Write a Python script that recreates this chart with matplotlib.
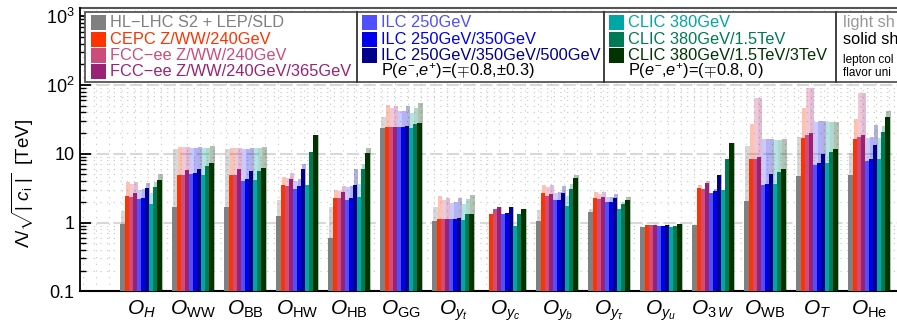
import numpy as np
import matplotlib
matplotlib.use("Agg")
import matplotlib.pyplot as plt
from matplotlib.patches import Rectangle
from matplotlib.ticker import FixedLocator, LogLocator, NullFormatter, FuncFormatter

plt.rcParams["font.family"] = ["Liberation Sans", "DejaVu Sans"]
plt.rcParams["mathtext.fontset"] = "custom"
plt.rcParams["mathtext.rm"] = "Liberation Sans"
plt.rcParams["mathtext.it"] = "Liberation Sans:italic"
plt.rcParams["mathtext.bf"] = "Liberation Sans:bold"
plt.rcParams["mathtext.sf"] = "Liberation Sans"

nan = np.nan

# operators on the x axis
operators = [r"$O_H$", r"$O_{\rm WW}$", r"$O_{\rm BB}$", r"$O_{\rm HW}$", r"$O_{\rm HB}$",
             r"$O_{\rm GG}$", r"$O_{y_t}$", r"$O_{y_c}$", r"$O_{y_b}$", r"$O_{y_\tau}$",
             r"$O_{y_u}$", r"$O_{{\rm 3}\,W}$", r"$O_{\rm WB}$", r"$O_T$", r"$O_{\rm He}$"]

# reach in TeV, solid shade / light shade, one entry per operator
hllhc_solid = [0.95, 1.71, 1.67, 1.25, 0.60, 23.7, 1.06, nan, 1.06, 1.43, 0.865, 0.915, 2.06, 4.76, 4.93]
hllhc_light = [1.46, 11.8, 11.8, 2.13, 1.69, 34.3, 1.69, nan, 1.53, 1.58, 0.865, 0.915, 13.0, 17.5, 10.2]
cepc_solid = [2.41, 4.92, 4.98, 3.49, 2.26, 24.5, 1.13, 1.35, 2.70, 2.31, 0.915, 3.19, 8.32, 17.2, 16.4]
cepc_light = [3.90, 12.6, 12.2, 4.60, 2.98, 51.2, 2.44, 1.35, 3.53, 2.79, 0.915, 3.53, 27.1, 46.3, 32.1]
fcc240_solid = [2.36, 4.87, 4.98, 3.41, 2.28, 24.5, 1.13, 1.60, 2.44, 2.21, 0.915, 3.08, 8.50, 18.8, 17.5]
fcc240_light = [3.65, 12.6, 12.2, 4.45, 2.88, 46.3, 2.13, 1.60, 3.30, 2.61, 0.915, 3.08, 64.7, 90.4, 76.5]
fcc365_solid = [2.73, 5.82, 5.95, 4.31, 2.79, 24.5, 1.13, 1.71, 2.64, 2.36, 0.915, 3.77, 9.00, 19.8, 18.8]
fcc365_light = [3.90, 12.6, 12.2, 5.27, 3.41, 49.5, 2.28, 1.71, 3.53, 2.79, 0.915, 4.03, 64.7, 90.4, 76.5]
ilc250_solid = [2.18, 5.15, 4.07, 3.08, 2.13, 24.3, 1.13, 1.35, 2.13, 2.00, 0.89, 2.70, 3.53, 6.88, 7.78]
ilc250_light = [2.98, 12.2, 11.8, 4.03, 3.30, 41.9, 1.93, 1.35, 2.70, 2.36, 0.89, 2.70, 16.4, 29.0, 17.0]
ilc350_solid = [2.28, 5.20, 4.26, 3.45, 2.31, 24.3, 1.13, 1.40, 2.13, 2.00, 0.89, 2.88, 3.65, 7.36, 8.41]
ilc350_light = [3.08, 12.2, 11.8, 4.31, 3.41, 41.9, 2.00, 1.40, 2.79, 2.36, 0.89, 3.08, 16.4, 29.7, 17.5]
ilc500_solid = [3.15, 6.00, 5.63, 6.00, 3.53, 25.1, 1.18, 1.71, 2.70, 2.31, 0.915, 4.93, 5.09, 10.0, 13.4]
ilc500_light = [3.77, 12.6, 12.2, 7.10, 6.00, 49.5, 2.28, 1.71, 3.41, 2.61, 0.915, 4.93, 16.4, 29.7, 26.2]
clic380_solid = [1.87, 4.92, 4.21, 3.49, 2.39, 23.7, 1.10, 0.89, 1.75, 1.58, 0.865, 2.95, 3.65, 7.36, 8.41]
clic380_light = [2.67, 12.2, 12.0, 3.49, 3.65, 39.2, 1.87, 0.89, 2.44, 1.58, 0.865, 2.95, 15.9, 29.0, 17.0]
clic1500_solid = [3.33, 6.66, 5.63, 10.7, 6.00, 27.4, 1.31, 1.35, 3.08, 1.87, 0.89, 8.41, 5.45, 10.6, 20.5]
clic1500_light = [3.85, 12.2, 12.2, 10.7, 7.10, 46.3, 2.21, 1.35, 3.65, 2.00, 0.89, 8.41, 15.9, 29.0, 25.1]
clic3000_solid = [4.17, 7.36, 6.15, 18.6, 10.3, 28.0, 1.31, 1.60, 4.46, 2.13, 0.955, 14.4, 6.00, 11.6, 34.7]
clic3000_light = [5.04, 13.0, 12.6, 18.6, 12.2, 54.7, 2.52, 1.60, 4.93, 2.36, 0.955, 14.4, 16.4, 29.0, 41.9]

labels = ["HL\u2212LHC S2 + LEP/SLD", "CEPC Z/WW/240GeV", "FCC\u2212ee Z/WW/240GeV",
          "FCC\u2212ee Z/WW/240GeV/365GeV", "ILC 250GeV", "ILC 250GeV/350GeV",
          "ILC 250GeV/350GeV/500GeV", "CLIC 380GeV", "CLIC 380GeV/1.5TeV",
          "CLIC 380GeV/1.5TeV/3TeV"]
colors = ["#808080", "#ff3300", "#cc4c7c", "#992277", "#5050ff", "#0000ee",
          "#00008b", "#00a6a6", "#007a55", "#003300"]
solids = [hllhc_solid, cepc_solid, fcc240_solid, fcc365_solid, ilc250_solid,
          ilc350_solid, ilc500_solid, clic380_solid, clic1500_solid, clic3000_solid]
lights = [hllhc_light, cepc_light, fcc240_light, fcc365_light, ilc250_light,
          ilc350_light, ilc500_light, clic380_light, clic1500_light, clic3000_light]

W, H = 897, 321
fig = plt.figure(figsize=(W / 100, H / 100), dpi=100)
# axes in pixel terms: left 80, right 905 (cut off), bottom 291.3, top 8
ax = fig.add_axes([80 / W, (H - 291.3) / H, (905 - 80) / W, (291.3 - 8) / H])
ax.set_yscale("log")
ax.set_ylim(0.1, 10 ** (3 + 8.3 / 68.8))
ax.set_xlim(-61 / 52, (905 - 141) / 52)

x = np.arange(len(operators))
bw = 0.079
for k, (sol, lig, c) in enumerate(zip(solids, lights, colors)):
    pos = x + (k - 4.5) * bw
    lv = np.array(lig, dtype=float)
    sv = np.array(sol, dtype=float)
    ax.bar(pos + 0.25 * bw, lv - 0.1, bottom=0.1, width=bw, color=c, alpha=0.3,
           linewidth=0, zorder=2)
    ax.bar(pos, sv - 0.1, bottom=0.1, width=bw, color=c, linewidth=0, zorder=3)

# grid
for v in [1, 10, 100]:
    ax.axhline(v, color="#d8d8d8", lw=1.5, dashes=(6, 2), zorder=1)
for d in [0.1, 1, 10, 100]:
    for m in range(2, 10):
        ax.axhline(d * m, color="#c4c4c4", lw=0.8, ls=(0, (1, 5)), zorder=1)
for xv in np.arange(-1.125, 14.7, 0.25):
    ax.axvline(xv, color="#c4c4c4", lw=0.8, ls=(0, (1, 5)), zorder=1)

ax.yaxis.set_major_locator(FixedLocator([0.1, 1, 10, 100, 1000]))
ax.yaxis.set_minor_locator(LogLocator(base=10, subs=np.arange(2, 10)))
ax.yaxis.set_minor_formatter(NullFormatter())
names = {0.1: "0.1", 1: "1", 10: "10", 100: r"$10^2$", 1000: r"$10^3$"}
ax.yaxis.set_major_formatter(FuncFormatter(lambda v, p: names.get(round(v, 1), "")))
ax.tick_params(axis="y", which="major", direction="in", length=8, width=1.3,
               labelsize=13, pad=4)
ax.tick_params(axis="y", which="minor", direction="in", length=4, width=1.0)
ax.set_xticks(x)
ax.set_xticklabels(operators, fontsize=15)
ax.tick_params(axis="x", length=0, pad=5)
for s in ["top", "right"]:
    ax.spines[s].set_visible(False)
ax.spines["left"].set_linewidth(1.3)
ax.spines["bottom"].set_linewidth(1.5)
ax.axhline(ax.get_ylim()[1], color="#555555", lw=1.5, clip_on=False)

ax.set_ylabel(r"$\Lambda/\sqrt{|\ c_{\rm i}\ |}$  [TeV]", fontsize=13.5)
ax.yaxis.set_label_coords(-0.053, 0.38)

# legend box in pixel coordinates
def fx(px):
    return px / W


def fy(py):
    return 1 - py / H


fig.patches.append(Rectangle((fx(85), fy(82)), fx(830), 70.5 / H, transform=fig.transFigure,
                             facecolor="white", edgecolor="#555555", lw=1.3, zorder=5))
for px in [357, 604, 836]:
    fig.add_artist(plt.Line2D([fx(px), fx(px)], [fy(82), fy(11.5)], color="#333333",
                              lw=1.3, zorder=6))

fs = 11.8
rows = [22.5, 39, 55, 71]
cols = [(90.5, 110, [0, 1, 2, 3]), (361.5, 381, [4, 5, 6]), (609, 628, [7, 8, 9])]
for sq, tx, idx in cols:
    for r, k in enumerate(idx):
        fig.patches.append(Rectangle((fx(sq), fy(rows[r] + 7.5)), 15 / W, 15 / H,
                                     transform=fig.transFigure, facecolor=colors[k],
                                     edgecolor="none", zorder=7))
        fig.text(fx(tx), fy(rows[r]), labels[k], color=colors[k], fontsize=fs,
                 va="center", ha="left", zorder=8)
fig.text(fx(381), fy(71), r"P($e^{-}$,$e^{+}$)=($\mp$0.8,$\pm$0.3)", fontsize=fs,
         va="center", ha="left", zorder=8)
fig.text(fx(628), fy(71), r"P($e^{-}$,$e^{+}$)=($\mp$0.8, 0)", fontsize=fs,
         va="center", ha="left", zorder=8)
fig.text(fx(843), fy(22.5), "light sh", color="#999999", fontsize=fs, va="center", zorder=8)
fig.text(fx(843), fy(39), "solid sh", color="black", fontsize=fs, va="center", zorder=8)
fig.text(fx(843), fy(60), "lepton col", color="black", fontsize=8.5, va="center", zorder=8)
fig.text(fx(843), fy(73), "flavor uni", color="black", fontsize=8.5, va="center", zorder=8)

fig.savefig("out.png", dpi=100)
